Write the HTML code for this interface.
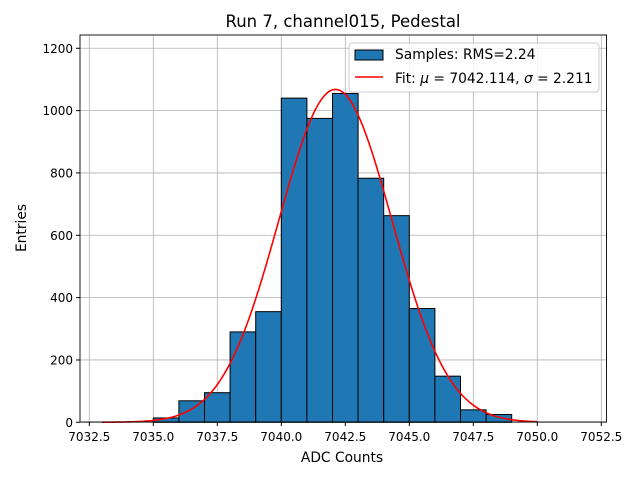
<!DOCTYPE html>
<html><head><meta charset="utf-8"><style>
body{margin:0;background:#fff;}
svg{font-family:"DejaVu Sans","Liberation Sans",sans-serif;}
</style></head><body>
<svg id="chart" width="640" height="480">
<text x="343" y="27" font-size="16.5" text-anchor="middle">Run 7, channel015, Pedestal</text>
<g id="grid"></g>
<g id="bars"></g>
<path id="fit" fill="none" stroke="red" stroke-width="1.6"/>
<rect x="80" y="35" width="526.5" height="387" fill="none" stroke="#000" stroke-width="0.9"/>
<g id="ticks" font-size="12"></g>
<text x="342" y="462" font-size="13.8" text-anchor="middle">ADC Counts</text>
<text transform="translate(26,228) rotate(-90)" font-size="13.8" text-anchor="middle">Entries</text>
<g>
<rect x="349" y="43" width="250" height="49" rx="3" fill="#fff" fill-opacity="0.8" stroke="#ccc"/>
<rect x="355" y="50" width="28" height="10" fill="#1f77b4" stroke="#000"/>
<text x="395" y="59" font-size="13.8">Samples: RMS=2.24</text>
<line x1="355" y1="77" x2="383" y2="77" stroke="red" stroke-width="1.6"/>
<text x="395" y="83" font-size="13.8">Fit: <tspan font-style="italic">μ</tspan> = 7042.114, <tspan font-style="italic">σ</tspan> = 2.211</text>
</g>
</svg>
<script>
const binEdges=[7035,7036,7037,7038,7039,7040,7041,7042,7043,7044,7045,7046,7047,7048];
const counts=[14,69,95,290,355,1040,975,1055,783,663,365,148,40,25];
const xTicks=[7032.5,7035.0,7037.5,7040.0,7042.5,7045.0,7047.5,7050.0,7052.5];
const yTicks=[0,200,400,600,800,1000,1200];
const fitMu=7042.114, fitSigma=2.211, fitAmp=1068, fitRange=[7033,7050];
const binWidth=1;
const NS='http://www.w3.org/2000/svg';
const X=v=>89.3+(v-7032.5)*25.6;
const Y=v=>422.3-v*0.3117;
function mk(tag,attrs,parent){const e=document.createElementNS(NS,tag);for(const k in attrs)e.setAttribute(k,attrs[k]);parent.appendChild(e);return e;}
const grid=document.getElementById('grid'),ticks=document.getElementById('ticks'),bars=document.getElementById('bars');
xTicks.forEach(t=>{
 const g=mk('line',{x1:X(t),x2:X(t),y1:35,y2:422,stroke:'#b0b0b0','stroke-width':0.8},grid);
 
 
 mk('line',{x1:X(t),x2:X(t),y1:422,y2:426,stroke:'#000'},ticks);
 const tx=mk('text',{x:X(t),y:441,'text-anchor':'middle'},ticks);tx.textContent=t.toFixed(1);
 
 
});
yTicks.forEach(t=>{
 const g=mk('line',{x1:80,x2:606.5,y1:Y(t),y2:Y(t),stroke:'#b0b0b0','stroke-width':0.8},grid);
 
 
 mk('line',{x1:76,x2:80,y1:Y(t),y2:Y(t),stroke:'#000'},ticks);
 const tx=mk('text',{x:73,y:Y(t)+4.5,'text-anchor':'end'},ticks);tx.textContent=t;
 
 
});
binEdges.forEach((b,i)=>{
 const r=mk('rect',{x:X(b),y:Y(counts[i]),width:X(b+binWidth)-X(b),height:Y(0)-Y(counts[i]),fill:'#1f77b4',stroke:'#000','stroke-width':1},bars);
 
 
});
let d='';
for(let i=0;i<=200;i++){const v=fitRange[0]+(fitRange[1]-fitRange[0])*i/200;
 const y=fitAmp*Math.exp(-0.5*Math.pow((v-fitMu)/fitSigma,2));
 d+=(i?'L':'M')+X(v).toFixed(2)+','+Y(y).toFixed(2);}
document.getElementById('fit').setAttribute('d',d);
</script>
</body></html>
